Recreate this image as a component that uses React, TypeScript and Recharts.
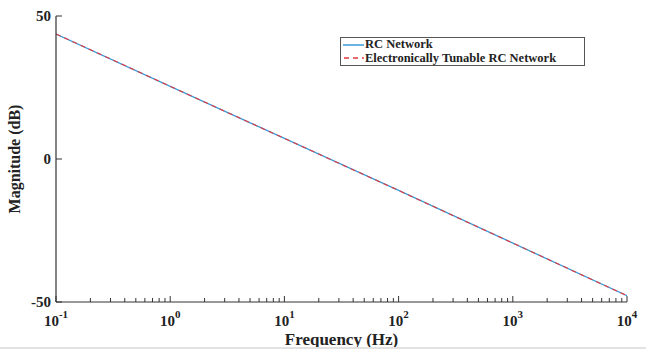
import React from 'react';
import { LineChart, Line, XAxis, YAxis } from 'recharts';

const frequencies = [0.1, 1, 10, 100, 1000, 10000];
const rcNetwork = [43.7, 25.4, 7.2, -11.0, -29.4, -47.8];
const tunableRcNetwork = [43.7, 25.4, 7.2, -11.0, -29.4, -47.8];
const yTicks = [-50, 0, 50];
const majorExponents = [-1, 0, 1, 2, 3, 4];
const seriesNames = ['RC Network', 'Electronically Tunable RC Network'];

const data = frequencies.map((f, i) => ({ f, rc: rcNetwork[i], et: tunableRcNetwork[i] }));

const xTicks: number[] = [];
majorExponents.forEach((e, idx) => {
  const base = Math.pow(10, e);
  xTicks.push(base);
  if (idx < majorExponents.length - 1) {
    for (let m = 2; m <= 9; m++) xTicks.push(m * base);
  }
});

const FONT = '"Liberation Serif", "Times New Roman", serif';
const AXIS = '#333';
const BLUE = '#3a9ad9';
const RED = '#e8383d';

const isMajor = (v: number) => {
  const l = Math.log10(v);
  return Math.abs(l - Math.round(l)) < 1e-6;
};

const BottomTick = (props: any) => {
  const { x, y, payload } = props;
  const v = payload.value;
  const major = isMajor(v);
  const exp = Math.round(Math.log10(v));
  return (
    <g>
      <line x1={x} y1={y} x2={x} y2={y - (major ? 6 : 4)} stroke={AXIS} strokeWidth={1} />
      {major && (
        <text x={x} y={y + 24} textAnchor="middle" fontFamily={FONT} fontWeight="bold" fontSize={15} fill="#222">
          <tspan>10</tspan>
          <tspan dy={-8} fontSize={11}>{exp}</tspan>
        </text>
      )}
    </g>
  );
};

const TopTick = (props: any) => {
  const { x, y, payload } = props;
  const major = isMajor(payload.value);
  return <line x1={x} y1={y} x2={x} y2={y + (major ? 6 : 4)} stroke={AXIS} strokeWidth={1} />;
};

const LeftTick = (props: any) => {
  const { x, y, payload } = props;
  return (
    <g>
      <line x1={x} y1={y} x2={x + 6} y2={y} stroke={AXIS} strokeWidth={1} />
      <text x={x - 5} y={y + 5} textAnchor="end" fontFamily={FONT} fontWeight="bold" fontSize={15} fill="#222">
        {payload.value}
      </text>
    </g>
  );
};

const RightTick = (props: any) => {
  const { x, y } = props;
  return <line x1={x} y1={y} x2={x - 6} y2={y} stroke={AXIS} strokeWidth={1} />;
};

const LegendBox = () => (
  <div
    style={{
      position: 'absolute',
      left: 340,
      top: 37,
      width: 241,
      height: 27,
      border: '1px solid #555',
      background: '#fff',
      padding: '0px 0px 0px 2px',
      fontFamily: FONT,
      fontWeight: 'bold',
      fontSize: 12.5,
      lineHeight: '13.5px',
      color: '#222',
      boxSizing: 'content-box',
      overflow: 'visible',
    }}
  >
    <div style={{ display: 'flex', alignItems: 'center', height: 13.5 }}>
      <svg width={21} height={10}>
        <line x1={0} y1={5} x2={21} y2={5} stroke={BLUE} strokeWidth={1.5} />
      </svg>
      <span style={{ marginLeft: 1 }}>{seriesNames[0]}</span>
    </div>
    <div style={{ display: 'flex', alignItems: 'center', height: 13.5 }}>
      <svg width={21} height={10}>
        <line x1={1} y1={5} x2={21} y2={5} stroke={RED} strokeWidth={1.5} strokeDasharray="5 4" />
      </svg>
      <span style={{ marginLeft: 1, whiteSpace: 'nowrap' }}>{seriesNames[1]}</span>
    </div>
  </div>
);

export default function App() {
  return (
    <div style={{ position: 'absolute', left: 0, top: 0, width: 646, height: 349, background: '#fff' }}>
      <LineChart width={646} height={349} data={data} margin={{ top: 16, right: 19, bottom: 0, left: 0 }}>
        <XAxis
          dataKey="f"
          type="number"
          scale="log"
          domain={[0.1, 10000]}
          ticks={xTicks}
          interval={0}
          allowDataOverflow
          height={47}
          tickSize={0}
          tickMargin={0}
          tickLine={false}
          tick={<BottomTick />}
          axisLine={{ stroke: AXIS, strokeWidth: 1.2 }}
          label={{
            value: 'Frequency (Hz)',
            position: 'insideBottom',
            offset: 4,
            style: { fontFamily: FONT, fontWeight: 'bold', fontSize: 17, fill: '#222' },
          }}
        />
        <XAxis
          xAxisId="top"
          orientation="top"
          dataKey="f"
          type="number"
          scale="log"
          domain={[0.1, 10000]}
          ticks={xTicks}
          interval={0}
          allowDataOverflow
          height={0}
          tickSize={0}
          tickMargin={0}
          tickLine={false}
          tick={<TopTick />}
          axisLine={{ stroke: AXIS, strokeWidth: 1.2 }}
        />
        <YAxis
          type="number"
          domain={[-50, 50]}
          ticks={yTicks}
          interval={0}
          width={56}
          tickSize={0}
          tickMargin={0}
          tickLine={false}
          tick={<LeftTick />}
          axisLine={{ stroke: AXIS, strokeWidth: 1.2 }}
          label={{
            value: 'Magnitude (dB)',
            angle: -90,
            position: 'insideLeft',
            offset: 14,
            style: { textAnchor: 'middle', fontFamily: FONT, fontWeight: 'bold', fontSize: 16, fill: '#222' },
          }}
        />
        <YAxis
          yAxisId="right"
          orientation="right"
          type="number"
          domain={[-50, 50]}
          ticks={yTicks}
          interval={0}
          width={0}
          tickSize={0}
          tickMargin={0}
          tickLine={false}
          tick={<RightTick />}
          axisLine={{ stroke: AXIS, strokeWidth: 1.2 }}
        />
        <Line
          dataKey="rc"
          name={seriesNames[0]}
          stroke={BLUE}
          strokeWidth={1.3}
          dot={false}
          isAnimationActive={false}
          type="linear"
        />
        <Line
          dataKey="et"
          name={seriesNames[1]}
          stroke={RED}
          strokeWidth={1.1}
          strokeDasharray="5 4"
          dot={false}
          isAnimationActive={false}
          type="linear"
        />
      </LineChart>
      <LegendBox />
      <div style={{ position: 'absolute', left: 0, top: 347, width: 646, height: 2, background: '#e2e2e2' }} />
    </div>
  );
}
